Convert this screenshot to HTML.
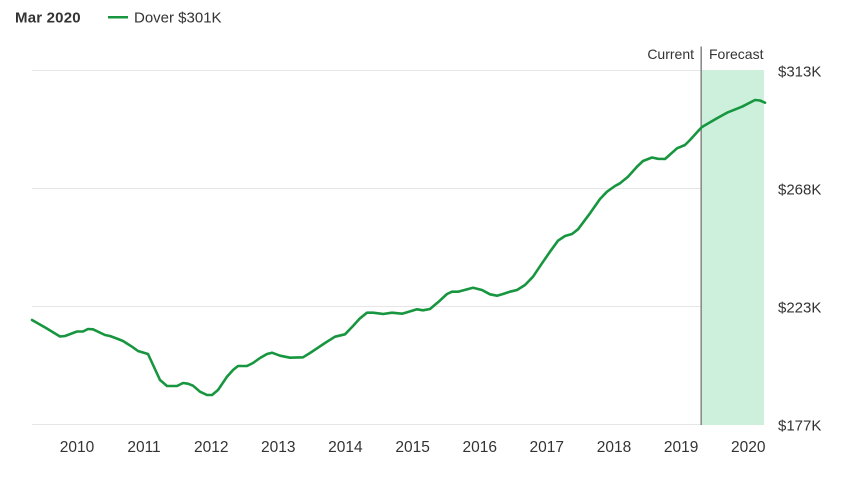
<!DOCTYPE html>
<html>
<head>
<meta charset="utf-8">
<style>
  html, body { margin: 0; padding: 0; background: #ffffff; }
  body { width: 849px; height: 480px; overflow: hidden; }
  svg { display: block; }
  text { font-family: "Liberation Sans", Arial, sans-serif; fill: #333333; }
</style>
</head>
<body>
<svg width="849" height="480" viewBox="0 0 849 480" xmlns="http://www.w3.org/2000/svg">
  <!-- header -->
  <text x="15" y="22.5" font-size="15" font-weight="bold" letter-spacing="0.2">Mar 2020</text>
  <line x1="108" y1="17.3" x2="128" y2="17.3" stroke="#17963f" stroke-width="2.5"/>
  <text x="134" y="22.5" font-size="15">Dover $301K</text>

  <!-- gridlines -->
  <g stroke="#e6e6e6" stroke-width="1">
    <line x1="32" y1="70.5" x2="764" y2="70.5"/>
    <line x1="32" y1="188.5" x2="764" y2="188.5"/>
    <line x1="32" y1="306.5" x2="764" y2="306.5"/>
    <line x1="32" y1="424.5" x2="764" y2="424.5"/>
  </g>

  <!-- forecast band -->
  <rect x="702" y="70" width="62" height="355" fill="#cdf0dc"/>

  <!-- current/forecast divider -->
  <line x1="701.2" y1="46.5" x2="701.2" y2="425" stroke="#8c8c8c" stroke-width="1.6"/>
  <text x="694" y="59" font-size="14" text-anchor="end">Current</text>
  <text x="709" y="59" font-size="14">Forecast</text>

  <!-- y labels -->
  <g font-size="15">
    <text x="778" y="76.5">$313K</text>
    <text x="778" y="194.5">$268K</text>
    <text x="778" y="312.5">$223K</text>
    <text x="778" y="430.5">$177K</text>
  </g>

  <!-- x labels -->
  <g font-size="15.5" text-anchor="middle">
    <text x="77" y="452">2010</text>
    <text x="144" y="452">2011</text>
    <text x="211.2" y="452">2012</text>
    <text x="278.3" y="452">2013</text>
    <text x="345.4" y="452">2014</text>
    <text x="412.6" y="452">2015</text>
    <text x="479.7" y="452">2016</text>
    <text x="546.8" y="452">2017</text>
    <text x="614" y="452">2018</text>
    <text x="681.1" y="452">2019</text>
    <text x="748.2" y="452">2020</text>
  </g>

  <!-- series -->
  <polyline fill="none" stroke="#17963f" stroke-width="2.6" stroke-linejoin="round" stroke-linecap="round"
    points="32,320 46,328 60,336.5 65,336 77,331.5 83,331.5 88,329 93,329.3 105,335 110,336 118,339 123,341 132,346.7 138,351 148,354 160,380 167,386 177,386 183,383 188,383.7 193,385.7 200,391.7 207,395 212,395 218,390 227,376.7 233,370 238,366 247,366 253,363 260,358 267,354 272,352.7 280,355.7 290,357.7 303,357.3 310,353 318,347.7 325,343 335,336.7 345,334.3 353,326 360,318.3 367,312.7 373,312.7 383,314 392,312.7 402,313.7 408,312 417,309.3 423,310.3 430,309 438,302.3 447,294 452,291.7 458,291.7 473,287.7 482,290 490,294.3 497,295.7 503,294 510,291.7 517,290 525,285 533,276.7 542,263.3 550,251.7 558,240.7 565,236 572,234 578,229.3 590,213.3 600,199 607,191.7 615,186 620,183.3 628,176.7 637,166.7 643,161 652,157.5 658,158.8 665,159 677,148.3 685,145 690,140 700,129 702,127 717,118.3 727,112.7 742,106.7 755,100 760,100.5 765,102.7"/>
</svg>
</body>
</html>
